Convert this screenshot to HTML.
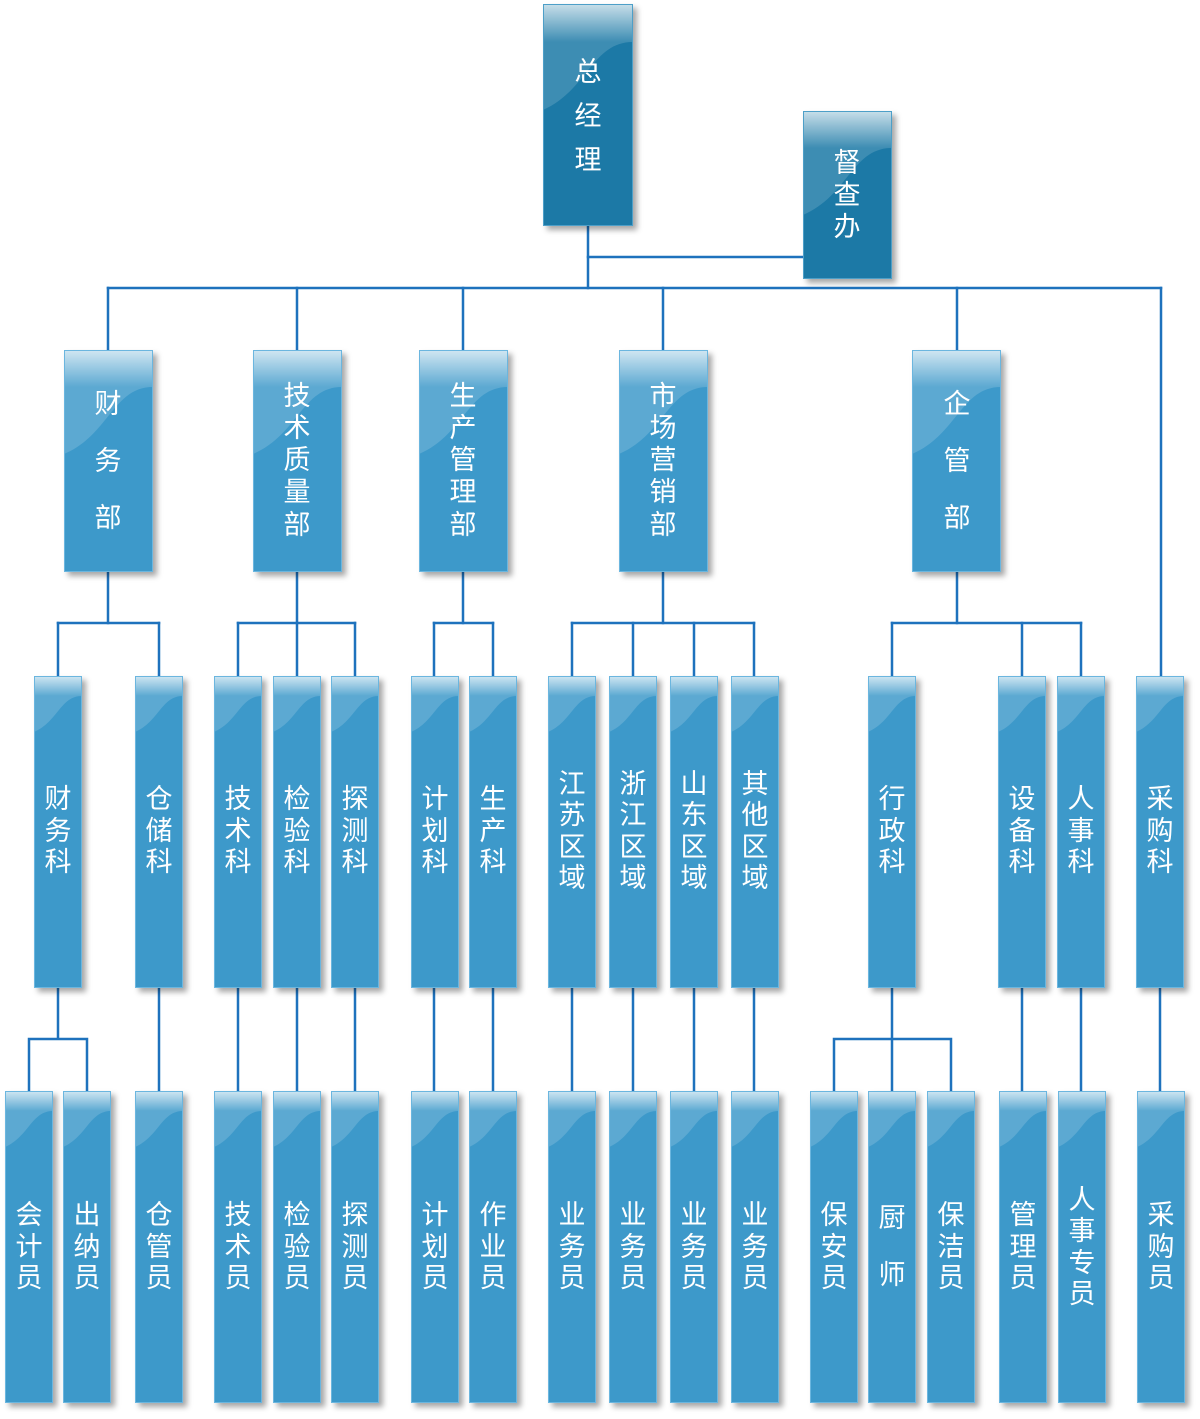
<!DOCTYPE html>
<html><head><meta charset="utf-8"><style>
html,body{margin:0;padding:0;background:#fff;}
svg{display:block;}
text{font-family:"Liberation Sans","Noto Sans CJK SC",sans-serif;font-size:27px;fill:#fff;text-anchor:middle;dominant-baseline:central;}
</style></head><body>
<svg width="1200" height="1419" viewBox="0 0 1200 1419" xmlns="http://www.w3.org/2000/svg">
<defs>
<filter id="sh" x="-30%" y="-10%" width="160%" height="120%">
<feDropShadow dx="4" dy="4" stdDeviation="3" flood-color="#000" flood-opacity="0.35"/>
</filter>
<linearGradient id="tg" x1="0" y1="0" x2="0" y2="1">
<stop offset="0" stop-color="#fff" stop-opacity="0.72"/>
<stop offset="1" stop-color="#fff" stop-opacity="0"/>
</linearGradient>
<g id="b48">
<rect width="48" height="312" fill="#3c99ca" filter="url(#sh)"/>
<path d="M0,0H48V20C26.4,20 24,45.6 0,56Z" fill="#fff" fill-opacity="0.16"/>
<rect width="48" height="20" fill="url(#tg)"/>
<rect x="0.5" y="0.5" width="47" height="311" fill="none" stroke="#6bb6df" stroke-width="1"/>
</g>
<g id="b89">
<rect width="89" height="222" fill="#3c99ca" filter="url(#sh)"/>
<path d="M0,0H89V37C49,37 45,85 0,104Z" fill="#fff" fill-opacity="0.16"/>
<rect width="89" height="37" fill="url(#tg)"/>
<rect x="0.5" y="0.5" width="88" height="221" fill="none" stroke="#6bb6df" stroke-width="1"/>
</g>
</defs>

<!-- connectors -->
<g stroke="#1e72bd" stroke-width="2.5" fill="none" stroke-linecap="square">
<path d="M588,226V288"/>
<path d="M588,257H803"/>
<path d="M108,288H1161"/>
<path d="M108,288V350M297,288V350M463,288V350M663,288V350M957,288V350M1161,288V676"/>
<path d="M108,572V623M297,572V623M463,572V623M663,572V623M957,572V623"/>
<path d="M58,623H159M238,623H355M434,623H493M572,623H754M892,623H1081"/>
<path d="M58,623V676M159,623V676M238,623V676M297,623V676M355,623V676M434,623V676M493,623V676M572,623V676M633,623V676M694,623V676M754,623V676M892,623V676M1022,623V676M1081,623V676"/>
<path d="M58,988V1039M29,1039H87M29,1039V1091M87,1039V1091"/>
<path d="M159,988V1091M238,988V1091M297,988V1091M355,988V1091M434,988V1091M493,988V1091M572,988V1091M633,988V1091M694,988V1091M754,988V1091"/>
<path d="M892,988V1091M834,1039H951M834,1039V1091M951,1039V1091"/>
<path d="M1022,988V1091M1081,988V1091M1160,988V1091"/>
</g>

<!-- top boxes -->
<g transform="translate(543,4)">
<rect width="90" height="222" fill="#1b79a6" filter="url(#sh)"/>
<path d="M0,0H90V38C49,38 45,86 0,106Z" fill="#fff" fill-opacity="0.15"/>
<rect width="90" height="38" fill="url(#tg)"/>
<rect x="0.5" y="0.5" width="89" height="221" fill="none" stroke="#4d9fc8" stroke-width="1"/>
</g>
<g transform="translate(803,111)">
<rect width="89" height="168" fill="#1b79a6" filter="url(#sh)"/>
<path d="M0,0H89V37C49,37 45,85 0,104Z" fill="#fff" fill-opacity="0.15"/>
<rect width="89" height="37" fill="url(#tg)"/>
<rect x="0.5" y="0.5" width="88" height="167" fill="none" stroke="#4d9fc8" stroke-width="1"/>
</g>

<!-- level 1 -->
<use href="#b89" x="64" y="350"/>
<use href="#b89" x="253" y="350"/>
<use href="#b89" x="419" y="350"/>
<use href="#b89" x="619" y="350"/>
<use href="#b89" x="912" y="350"/>

<!-- level 2 -->
<use href="#b48" x="34" y="676"/>
<use href="#b48" x="135" y="676"/>
<use href="#b48" x="214" y="676"/>
<use href="#b48" x="273" y="676"/>
<use href="#b48" x="331" y="676"/>
<use href="#b48" x="411" y="676"/>
<use href="#b48" x="469" y="676"/>
<use href="#b48" x="548" y="676"/>
<use href="#b48" x="609" y="676"/>
<use href="#b48" x="670" y="676"/>
<use href="#b48" x="731" y="676"/>
<use href="#b48" x="868" y="676"/>
<use href="#b48" x="998" y="676"/>
<use href="#b48" x="1057" y="676"/>
<use href="#b48" x="1136" y="676"/>

<!-- level 3 -->
<use href="#b48" x="5" y="1091"/>
<use href="#b48" x="63" y="1091"/>
<use href="#b48" x="135" y="1091"/>
<use href="#b48" x="214" y="1091"/>
<use href="#b48" x="273" y="1091"/>
<use href="#b48" x="331" y="1091"/>
<use href="#b48" x="411" y="1091"/>
<use href="#b48" x="469" y="1091"/>
<use href="#b48" x="548" y="1091"/>
<use href="#b48" x="609" y="1091"/>
<use href="#b48" x="670" y="1091"/>
<use href="#b48" x="731" y="1091"/>
<use href="#b48" x="810" y="1091"/>
<use href="#b48" x="868" y="1091"/>
<use href="#b48" x="927" y="1091"/>
<use href="#b48" x="999" y="1091"/>
<use href="#b48" x="1058" y="1091"/>
<use href="#b48" x="1137" y="1091"/>

<!-- text level 0 -->
<text x="588" y="72">总</text><text x="588" y="116">经</text><text x="588" y="160">理</text>
<text x="847" y="163">督</text><text x="847" y="195">查</text><text x="847" y="227">办</text>

<!-- text level 1 -->
<text x="108" y="404">财</text><text x="108" y="461">务</text><text x="108" y="518">部</text>
<text x="297" y="396">技</text><text x="297" y="428">术</text><text x="297" y="460">质</text><text x="297" y="492">量</text><text x="297" y="525">部</text>
<text x="463" y="396">生</text><text x="463" y="428">产</text><text x="463" y="460">管</text><text x="463" y="492">理</text><text x="463" y="525">部</text>
<text x="663" y="396">市</text><text x="663" y="428">场</text><text x="663" y="460">营</text><text x="663" y="492">销</text><text x="663" y="525">部</text>
<text x="957" y="404">企</text><text x="957" y="461">管</text><text x="957" y="518">部</text>

<!-- text level 2 -->
<g>
<text x="58" y="799">财</text><text x="58" y="831">务</text><text x="58" y="862">科</text>
<text x="159" y="799">仓</text><text x="159" y="831">储</text><text x="159" y="862">科</text>
<text x="238" y="799">技</text><text x="238" y="831">术</text><text x="238" y="862">科</text>
<text x="297" y="799">检</text><text x="297" y="831">验</text><text x="297" y="862">科</text>
<text x="355" y="799">探</text><text x="355" y="831">测</text><text x="355" y="862">科</text>
<text x="435" y="799">计</text><text x="435" y="831">划</text><text x="435" y="862">科</text>
<text x="493" y="799">生</text><text x="493" y="831">产</text><text x="493" y="862">科</text>
<text x="572" y="784">江</text><text x="572" y="815">苏</text><text x="572" y="847">区</text><text x="572" y="878">域</text>
<text x="633" y="784">浙</text><text x="633" y="815">江</text><text x="633" y="847">区</text><text x="633" y="878">域</text>
<text x="694" y="784">山</text><text x="694" y="815">东</text><text x="694" y="847">区</text><text x="694" y="878">域</text>
<text x="755" y="784">其</text><text x="755" y="815">他</text><text x="755" y="847">区</text><text x="755" y="878">域</text>
<text x="892" y="799">行</text><text x="892" y="831">政</text><text x="892" y="862">科</text>
<text x="1022" y="799">设</text><text x="1022" y="831">备</text><text x="1022" y="862">科</text>
<text x="1081" y="799">人</text><text x="1081" y="831">事</text><text x="1081" y="862">科</text>
<text x="1160" y="799">采</text><text x="1160" y="831">购</text><text x="1160" y="862">科</text>
</g>

<!-- text level 3 -->
<g>
<text x="29" y="1215">会</text><text x="29" y="1247">计</text><text x="29" y="1278">员</text>
<text x="87" y="1215">出</text><text x="87" y="1247">纳</text><text x="87" y="1278">员</text>
<text x="159" y="1215">仓</text><text x="159" y="1247">管</text><text x="159" y="1278">员</text>
<text x="238" y="1215">技</text><text x="238" y="1247">术</text><text x="238" y="1278">员</text>
<text x="297" y="1215">检</text><text x="297" y="1247">验</text><text x="297" y="1278">员</text>
<text x="355" y="1215">探</text><text x="355" y="1247">测</text><text x="355" y="1278">员</text>
<text x="435" y="1215">计</text><text x="435" y="1247">划</text><text x="435" y="1278">员</text>
<text x="493" y="1215">作</text><text x="493" y="1247">业</text><text x="493" y="1278">员</text>
<text x="572" y="1215">业</text><text x="572" y="1247">务</text><text x="572" y="1278">员</text>
<text x="633" y="1215">业</text><text x="633" y="1247">务</text><text x="633" y="1278">员</text>
<text x="694" y="1215">业</text><text x="694" y="1247">务</text><text x="694" y="1278">员</text>
<text x="755" y="1215">业</text><text x="755" y="1247">务</text><text x="755" y="1278">员</text>
<text x="834" y="1215">保</text><text x="834" y="1247">安</text><text x="834" y="1278">员</text>
<text x="892" y="1218">厨</text><text x="892" y="1275">师</text>
<text x="951" y="1215">保</text><text x="951" y="1247">洁</text><text x="951" y="1278">员</text>
<text x="1023" y="1215">管</text><text x="1023" y="1247">理</text><text x="1023" y="1278">员</text>
<text x="1082" y="1200">人</text><text x="1082" y="1231">事</text><text x="1082" y="1263">专</text><text x="1082" y="1294">员</text>
<text x="1161" y="1215">采</text><text x="1161" y="1247">购</text><text x="1161" y="1278">员</text>
</g>
</svg>
</body></html>
